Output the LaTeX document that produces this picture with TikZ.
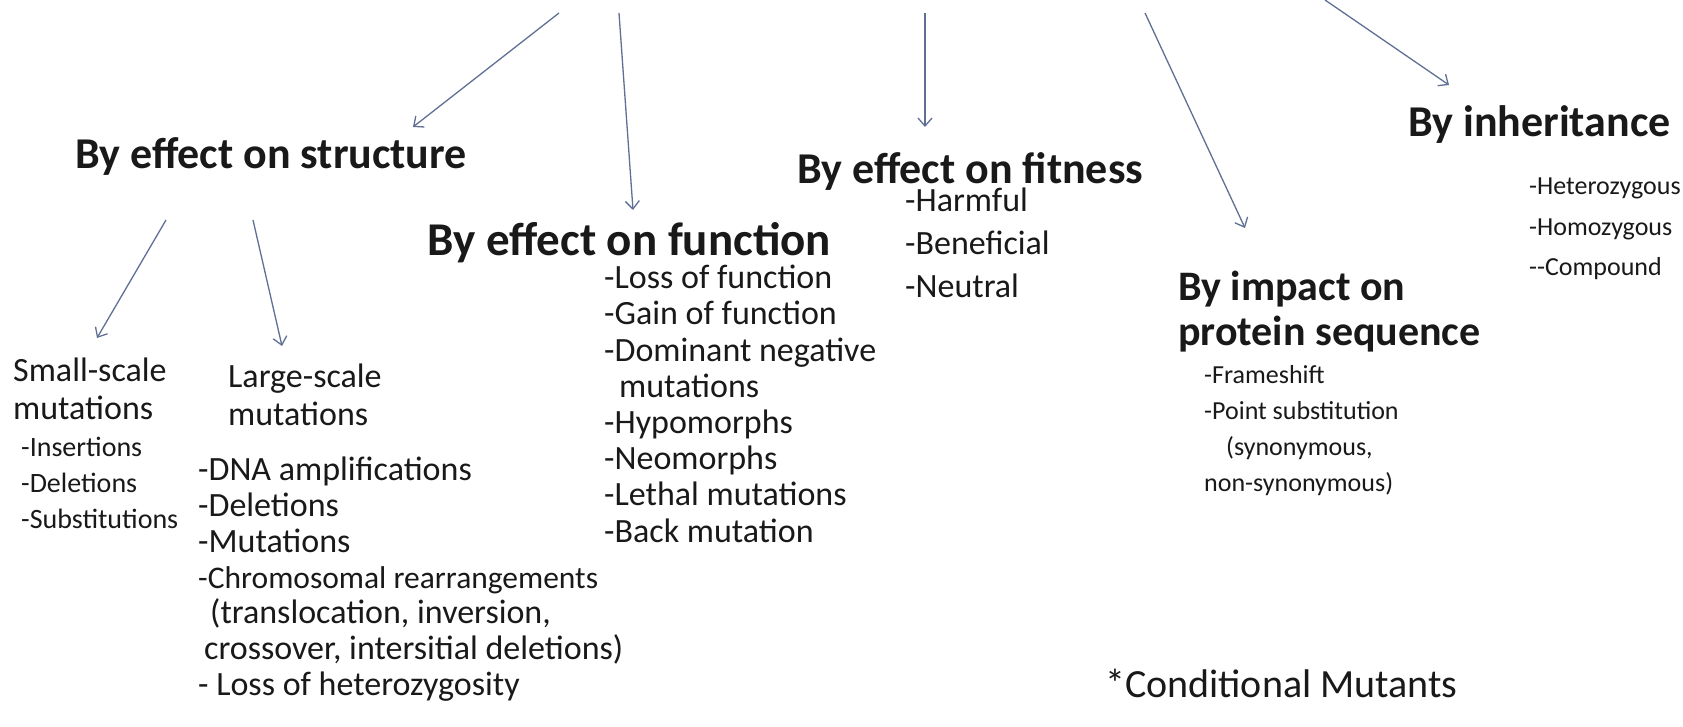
\documentclass[tikz,border=0pt]{standalone}
\usepackage{fontspec}
\setmainfont{Carlito}
\usepackage{xcolor}
\usetikzlibrary{arrows.meta,positioning,calc}

\definecolor{arrowgray}{RGB}{96,112,148}
\definecolor{inkblack}{RGB}{25,25,25}

\begin{document}
\begin{tikzpicture}[
    x=1pt, y=-1pt,
    headbox/.style={inner sep=0pt, anchor=base west, align=left, text=inkblack, font=\bfseries\fontsize{44}{48}\selectfont},
    listbox/.style={inner sep=0pt, anchor=base west, align=left, text=inkblack, font=\fontsize{34}{36.2}\selectfont},
    smallbox/.style={listbox, font=\fontsize{28}{36}\selectfont},
    arr/.style={-{Straight Barb[length=8pt, width=14pt]}, draw=arrowgray, line width=1.3pt}
]
\useasboundingbox[fill=white] (0,0) rectangle (1683,727);

% headings (multi-line nodes sit on the baseline of their last line)
\node[headbox] (struct) at (75,168.5) {By effect on structure};
\node[headbox, font=\bfseries\fontsize{47}{50}\selectfont] (func) at (427,255.4) {By effect on function};
\node[headbox] (fit) at (797,183.5) {By effect on fitness};
\node[headbox] (inher) at (1408,136.3) {By inheritance};
\node[headbox, font=\bfseries\fontsize{42}{45}\selectfont] (prot) at (1178,345) {By impact on\\protein sequence};

% by structure
\node[listbox, font=\fontsize{34}{38.6}\selectfont] (smallhd) at (13,419.7) {Small-scale\\mutations};
\node[smallbox] (smalllist) at (21,528) {-Insertions\\-Deletions\\-Substitutions};
\node[listbox, font=\fontsize{34}{37.6}\selectfont] (largehd) at (228,425) {Large-scale\\mutations};
\node[listbox, font=\fontsize{34}{35.8}\selectfont] (largelist) at (198,695.5) {
    -DNA amplifications\\
    -Deletions\\
    -Mutations\\
    {\fontsize{31.5}{35.8}\selectfont -Chromosomal rearrangements}\\
    \hspace*{12pt}(translocation, inversion,\\
    \hspace*{6pt}crossover, intersitial deletions)\\
    - Loss of heterozygosity
};

% by function
\node[listbox] (funclist) at (604,542) {
    -Loss of function\\
    -Gain of function\\
    -Dominant negative\\
    \hspace*{15pt}mutations\\
    -Hypomorphs\\
    -Neomorphs\\
    -Lethal mutations\\
    -Back mutation
};

% by fitness
\node[listbox, font=\fontsize{34}{43}\selectfont] (fitlist) at (905,297.3) {-Harmful\\-Beneficial\\-Neutral};

% by protein sequence
\node[listbox, font=\fontsize{26}{35.8}\selectfont] (protlist) at (1204,491) {
    -Frameshift\\
    -Point substitution\\
    \hspace*{22pt}(synonymous,\\
    non-synonymous)
};

% by inheritance
\node[listbox, font=\fontsize{26}{40.3}\selectfont] (inherlist) at (1529,275.3) {-Heterozygous\\-Homozygous\\-{}-Compound};

\node[listbox, font=\fontsize{40}{42}\selectfont] (cond) at (1105,697) {*Conditional Mutants};

% arrows from above
\coordinate (src1) at (559,13);
\coordinate (src2) at (619,13);
\coordinate (src3) at (925,13);
\coordinate (src4) at (1145,13);
\coordinate (src5) at (1325,0);

\draw[arr] (src1) -- ([xshift=338pt, yshift=41.5pt]struct.base west);
\draw[arr] (src2) -- ([xshift=206pt, yshift=45.4pt]func.base west);
\draw[arr] (src3) -- ([xshift=128pt, yshift=56.5pt]fit.base west);
\draw[arr] (src4) -- ([xshift=67pt, yshift=117pt]prot.base west);
\draw[arr] (src5) -- ([xshift=41pt, yshift=51.3pt]inher.base west);

% arrows below structure
\draw[arr] ([xshift=91pt, yshift=-51.5pt]struct.base west) -- ([xshift=84pt, yshift=81.7pt]smallhd.base west);
\draw[arr] ([xshift=178pt, yshift=-51.5pt]struct.base west) -- ([xshift=54pt, yshift=79pt]largehd.base west);

\end{tikzpicture}
\end{document}
